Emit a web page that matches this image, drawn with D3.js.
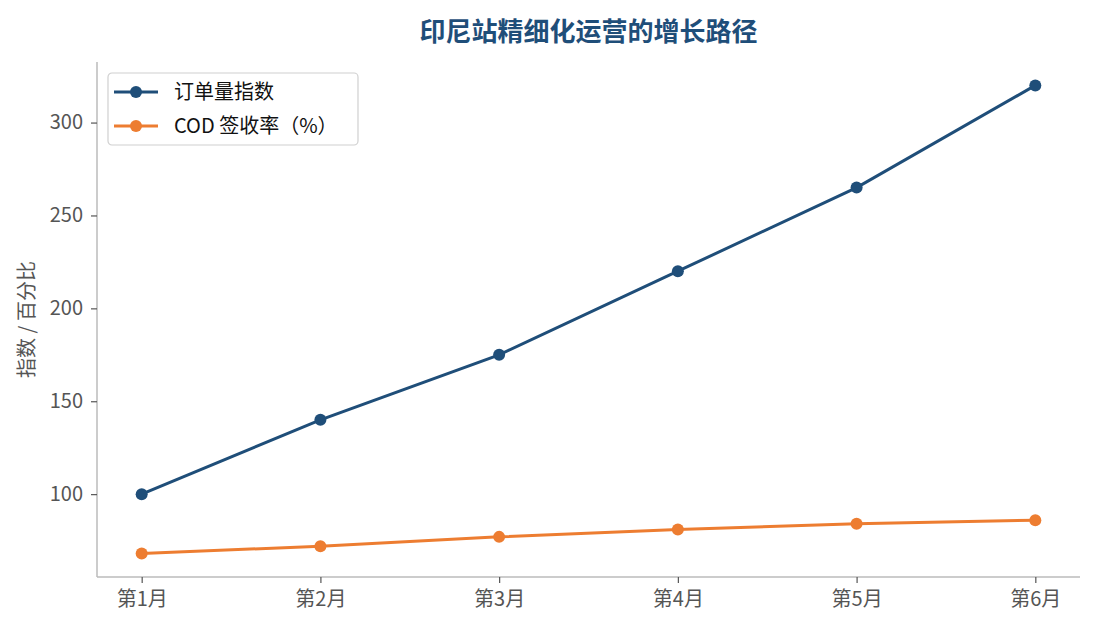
<!DOCTYPE html>
<html>
<head>
<meta charset="utf-8">
<script src="https://cdn.jsdelivr.net/npm/d3@7"></script>
<style>
  body { margin: 0; background: #fff; }
  svg text { font-family: "Noto Sans CJK SC", "Noto Sans", sans-serif; }
</style>
</head>
<body>
<svg id="chart" width="1095" height="630"></svg>
<script>
// chart data
var months = ['第1月', '第2月', '第3月', '第4月', '第5月', '第6月'];
var orderIndex = [100, 140, 175, 220, 265, 320];
var codRate = [68, 72, 77, 81, 84, 86];
var yTicks = [100, 150, 200, 250, 300];
var seriesNames = ['订单量指数', 'COD 签收率（%）'];
var seriesColors = ['#1f4e79', '#ed7d31'];

var svg = d3.select('#chart');
var margin = {left: 97, right: 15, top: 62, bottom: 53};
var width = 1095 - margin.left - margin.right;
var height = 630 - margin.top - margin.bottom;

// matplotlib style 5% padding around the data
var x = d3.scaleLinear().domain([-0.25, 5.25]).range([0, width]);
var yMin = 68, yMax = 320, pad = (yMax - yMin) * 0.05;
var y = d3.scaleLinear().domain([yMin - pad, yMax + pad]).range([height, 0]);

var g = svg.append('g').attr('transform', 'translate(' + margin.left + ',' + margin.top + ')');

// title
svg.append('text')
  .attr('x', margin.left + width / 2)
  .attr('y', 41)
  .attr('text-anchor', 'middle')
  .attr('font-size', 26)
  .attr('font-weight', 'bold')
  .attr('fill', '#1f4e79')
  .text('印尼站精细化运营的增长路径');

// axes
var xAxis = d3.axisBottom(x)
  .tickValues(d3.range(months.length))
  .tickFormat(function(i){ return months[i]; })
  .tickSize(6).tickPadding(9);
var yAxis = d3.axisLeft(y).tickValues(yTicks).tickSize(6).tickPadding(8);

var gx = g.append('g').attr('transform', 'translate(0,' + height + ')').call(xAxis);
var gy = g.append('g').call(yAxis);
[gx, gy].forEach(function(ax){
  ax.select('.domain').attr('stroke', '#bbbbbb').attr('stroke-width', 1.5);
  ax.selectAll('.tick line').attr('stroke', '#555').attr('stroke-width', 1.2);
  ax.selectAll('.tick text').attr('fill', '#555').attr('font-size', 20);
});
// keep the spines straight (no outer tick hooks)
gx.select('.domain').attr('d', 'M0,0H' + width);
gy.select('.domain').attr('d', 'M0,0V' + height);

// y label
svg.append('text')
  .attr('transform', 'translate(34,' + (margin.top + height / 2) + ') rotate(-90)')
  .attr('text-anchor', 'middle')
  .attr('font-size', 20)
  .attr('fill', '#555')
  .text('指数 / 百分比');

// lines and markers
var line = d3.line()
  .x(function(d, i){ return x(i); })
  .y(function(d){ return y(d); });

[orderIndex, codRate].forEach(function(values, k){
  g.append('path')
    .datum(values)
    .attr('d', line)
    .attr('fill', 'none')
    .attr('stroke', seriesColors[k])
    .attr('stroke-width', 3);
  g.selectAll('.pt' + k)
    .data(values)
    .enter().append('circle')
    .attr('cx', function(d, i){ return x(i); })
    .attr('cy', function(d){ return y(d); })
    .attr('r', 6)
    .attr('fill', seriesColors[k]);
});

// legend
var lg = svg.append('g').attr('transform', 'translate(108,73)');
lg.append('rect')
  .attr('width', 250).attr('height', 72)
  .attr('rx', 4)
  .attr('fill', '#fff')
  .attr('stroke', '#d0d0d0')
  .attr('stroke-width', 1.2);
seriesNames.forEach(function(name, k){
  var ly = 19 + k * 34;
  lg.append('line')
    .attr('x1', 6).attr('x2', 50)
    .attr('y1', ly).attr('y2', ly)
    .attr('stroke', seriesColors[k]).attr('stroke-width', 3);
  lg.append('circle')
    .attr('cx', 28).attr('cy', ly).attr('r', 6)
    .attr('fill', seriesColors[k]);
  lg.append('text')
    .attr('x', 66).attr('y', ly + 7)
    .attr('font-size', 20)
    .attr('fill', '#111')
    .text(name);
});
</script>
</body>
</html>
